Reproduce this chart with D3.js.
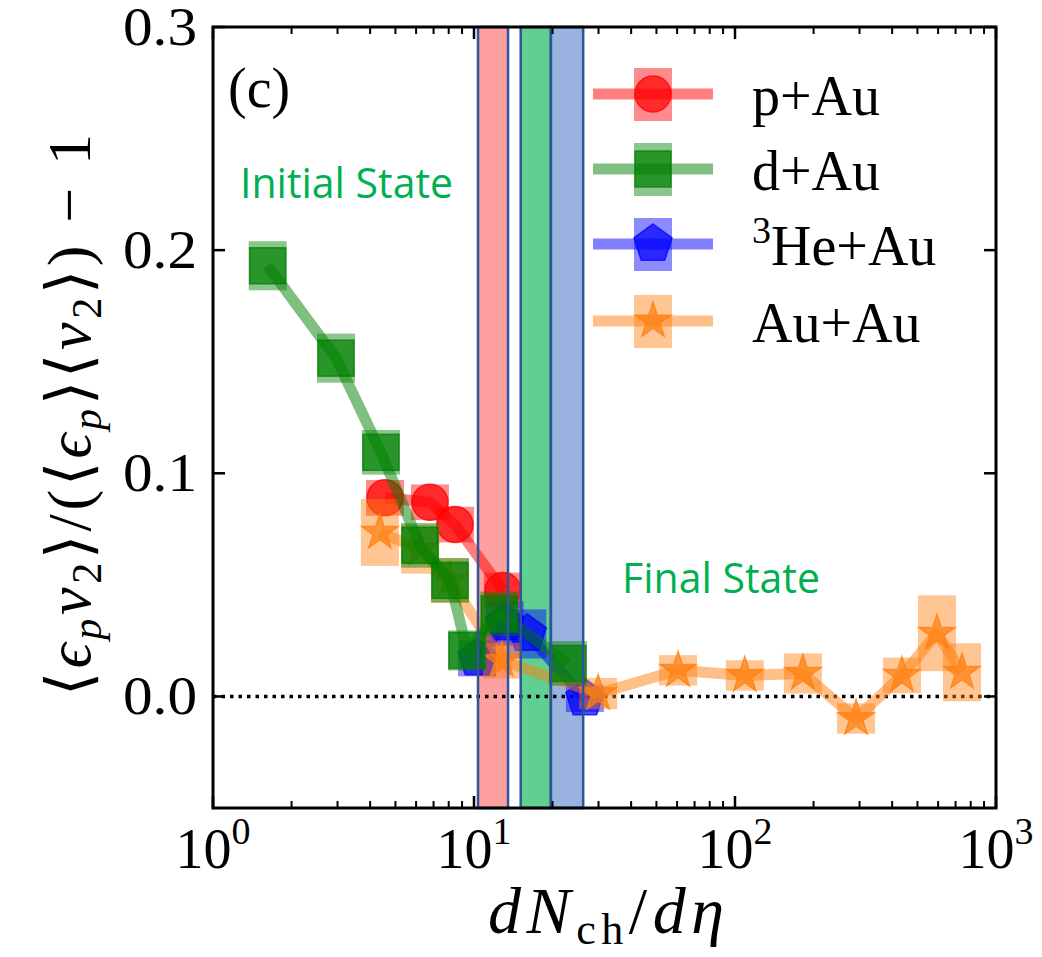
<!DOCTYPE html>
<html><head><meta charset="utf-8">
<script src="https://cdn.jsdelivr.net/npm/d3@7"></script>
<style>body{margin:0;background:#fff} svg{display:block}</style>
</head><body>
<svg id="chart" width="1042" height="957"></svg>
<script>
// ---------------- data ----------------
const pAuX   = [4.56, 6.78, 8.46, 12.9];
const pAuY   = [0.089, 0.087, 0.077, 0.0475];
const pAuErr = [0.008, 0.008, 0.008, 0.008];

const dAuX   = [1.62, 2.96, 4.40, 6.21, 8.09, 9.40, 12.5, 22.9];
const dAuY   = [0.193, 0.1516, 0.1094, 0.0677, 0.052, 0.0206, 0.037, 0.0148];
const dAuErr = [0.011, 0.011, 0.010, 0.010, 0.010, 0.009, 0.010, 0.010];

const heAuX   = [10.27, 13.1, 16.0, 26.6];
const heAuY   = [0.017, 0.0327, 0.028, -0.001];
const heAuErr = [0.008, 0.010, 0.011, 0.006];

const auAuX   = [4.36, 6.22, 8.09, 12.8, 29.9, 60.5, 109, 182, 291, 436, 594, 741];
const auAuY   = [0.0735, 0.066, 0.052, 0.016, 0.0013, 0.0117, 0.0094, 0.0103, -0.0099, 0.0094, 0.0283, 0.0108];
const auAuErr = [0.015, 0.011, 0.010, 0.008, 0.007, 0.0068, 0.0068, 0.009, 0.0068, 0.008, 0.017, 0.013];

const seriesNames  = ["p+Au", "d+Au", "He+Au", "Au+Au"];
const seriesColors = ["#ff0000", "#008000", "#0000ff", "#ff7f0e"];
const seriesShapes = ["circle", "square", "pentagon", "star"];
const drawOrder    = [0, 2, 3, 1];   // p+Au, He+Au, Au+Au, d+Au (d+Au on top)

const bandLo = [10.36, 15.1, 19.7];
const bandHi = [13.5, 19.7, 26.2];
const bandColors = ["#ffa0a0", "#5fcf92", "#99b2e0"];

const xMajorTicks = [1, 10, 100, 1000];
const xTickExp    = ["0", "1", "2", "3"];
const yTicks      = [0, 0.1, 0.2, 0.3];
const yTickLabels = ["0.0", "0.1", "0.2", "0.3"];

// ---------------- setup ----------------
const svg = d3.select("#chart");
const L = 213, R = 996, T = 27, B = 808;
const x = d3.scaleLog().domain([1, 1000]).range([L, R]);
const y = d3.scaleLinear().domain([-0.05, 0.3]).range([B, T]);
const serif = "'Liberation Serif', 'Times New Roman', serif";

const series = [
  {name: seriesNames[0], xs: pAuX, ys: pAuY, es: pAuErr, color: seriesColors[0], shape: seriesShapes[0]},
  {name: seriesNames[1], xs: dAuX, ys: dAuY, es: dAuErr, color: seriesColors[1], shape: seriesShapes[1]},
  {name: seriesNames[2], xs: heAuX, ys: heAuY, es: heAuErr, color: seriesColors[2], shape: seriesShapes[2]},
  {name: seriesNames[3], xs: auAuX, ys: auAuY, es: auAuErr, color: seriesColors[3], shape: seriesShapes[3]},
];

function polyPath(n, R1, R2) {
  const pts = [];
  const m = R2 ? n * 2 : n;
  for (let i = 0; i < m; i++) {
    const a = -Math.PI / 2 + i * 2 * Math.PI / m;
    const r = (R2 && i % 2 === 1) ? R2 : R1;
    pts.push([r * Math.cos(a), r * Math.sin(a)]);
  }
  return "M" + pts.map(p => p[0].toFixed(2) + "," + p[1].toFixed(2)).join("L") + "Z";
}
function drawMarker(g, shape, cx, cy, color) {
  let el;
  if (shape === "circle") {
    el = g.append("circle").attr("cx", cx).attr("cy", cy).attr("r", 18);
  } else if (shape === "square") {
    el = g.append("rect").attr("x", cx - 18).attr("y", cy - 18).attr("width", 36).attr("height", 36);
  } else if (shape === "pentagon") {
    el = g.append("path").attr("d", polyPath(5, 20)).attr("transform", `translate(${cx},${cy})`);
  } else {
    el = g.append("path").attr("d", polyPath(5, 19, 19 * 0.382)).attr("transform", `translate(${cx},${cy})`);
  }
  el.attr("fill", color).attr("fill-opacity", 0.7)
    .attr("stroke", color).attr("stroke-opacity", 0.75).attr("stroke-width", 1.5);
}

// ---------------- band fills ----------------
const bandG = svg.append("g");
bandLo.forEach((lo, i) => {
  bandG.append("rect").attr("x", x(lo)).attr("y", T)
    .attr("width", x(bandHi[i]) - x(lo)).attr("height", B - T)
    .attr("fill", bandColors[i]);
});

// zero line
svg.append("line").attr("x1", L).attr("x2", R).attr("y1", y(0)).attr("y2", y(0))
  .attr("stroke", "#000").attr("stroke-width", 3.5).attr("stroke-dasharray", "3.5,5");

// ---------------- series ----------------
const line = d3.line().x(d => x(d[0])).y(d => y(d[1]));
drawOrder.forEach(k => {
  const s = series[k];
  const g = svg.append("g");
  const pts = s.xs.map((v, i) => [v, s.ys[i], s.es[i]]);
  g.selectAll("rect.box").data(pts).enter().append("rect")
    .attr("x", d => x(d[0]) - 19).attr("width", 38)
    .attr("y", d => y(d[1] + d[2])).attr("height", d => y(d[1] - d[2]) - y(d[1] + d[2]))
    .attr("fill", s.color).attr("fill-opacity", 0.45);
  g.append("path").attr("d", line(pts)).attr("fill", "none")
    .attr("stroke", s.color).attr("stroke-opacity", 0.5).attr("stroke-width", 11)
    .attr("stroke-linejoin", "round");
  pts.forEach(d => drawMarker(g, s.shape, x(d[0]), y(d[1]), s.color));
});

// ---------------- band borders ----------------
bandLo.forEach((lo, i) => {
  svg.append("rect").attr("x", x(lo)).attr("y", T)
    .attr("width", x(bandHi[i]) - x(lo)).attr("height", B - T)
    .attr("fill", "none").attr("stroke", "#2f5597").attr("stroke-width", 2.5);
});

// ---------------- axes frame & ticks ----------------
const ax = svg.append("g").attr("stroke", "#000");
const minor = x.ticks().filter(v => !xMajorTicks.includes(v));
minor.forEach(v => {
  ax.append("line").attr("x1", x(v)).attr("x2", x(v)).attr("y1", B).attr("y2", B - 7).attr("stroke-width", 2);
  ax.append("line").attr("x1", x(v)).attr("x2", x(v)).attr("y1", T).attr("y2", T + 7).attr("stroke-width", 2);
});
xMajorTicks.forEach(v => {
  ax.append("line").attr("x1", x(v)).attr("x2", x(v)).attr("y1", B).attr("y2", B - 12).attr("stroke-width", 2.5);
  ax.append("line").attr("x1", x(v)).attr("x2", x(v)).attr("y1", T).attr("y2", T + 12).attr("stroke-width", 2.5);
});
yTicks.forEach(v => {
  ax.append("line").attr("x1", L).attr("x2", L + 12).attr("y1", y(v)).attr("y2", y(v)).attr("stroke-width", 2.5);
  ax.append("line").attr("x1", R).attr("x2", R - 12).attr("y1", y(v)).attr("y2", y(v)).attr("stroke-width", 2.5);
});
svg.append("rect").attr("x", L).attr("y", T).attr("width", R - L).attr("height", B - T)
  .attr("fill", "none").attr("stroke", "#000").attr("stroke-width", 3);

// tick labels
yTicks.forEach((v, i) => {
  svg.append("text").attr("x", 197).attr("y", y(v) + 18)
    .attr("text-anchor", "end").attr("font-family", serif).attr("font-size", 54)
    .attr("textLength", 74).attr("lengthAdjust", "spacingAndGlyphs")
    .text(yTickLabels[i]);
});
xMajorTicks.forEach((v, i) => {
  const t = svg.append("text").attr("x", x(v)).attr("y", 868)
    .attr("text-anchor", "middle").attr("font-family", serif).attr("font-size", 56);
  t.append("tspan").text("10");
  t.append("tspan").attr("font-size", 38).attr("dy", -24).text(xTickExp[i]);
});

// axis labels
const xl = svg.append("text").attr("x", 606).attr("y", 933).attr("text-anchor", "middle")
  .attr("font-family", serif).attr("font-size", 66)
  .attr("textLength", 236).attr("lengthAdjust", "spacing");
xl.append("tspan").attr("font-style", "italic").text("dN");
xl.append("tspan").attr("font-size", 44).attr("dy", 11).text("ch");
xl.append("tspan").attr("dy", -11).text("/");
xl.append("tspan").attr("font-style", "italic").text("dη");

const yl = svg.append("text").attr("transform", "translate(90,415) rotate(-90)")
  .attr("text-anchor", "middle").attr("font-family", serif).attr("font-size", 62)
  .attr("textLength", 562).attr("lengthAdjust", "spacing");
const parts = [
  ["⟨", 0, 0], ["ϵ", 1, 0], ["p", 1, 1], ["v", 1, 0], ["2", 0, 1], ["⟩/(⟨", 0, 0],
  ["ϵ", 1, 0], ["p", 1, 1], ["⟩⟨", 0, 0], ["v", 1, 0], ["2", 0, 1], ["⟩) − 1", 0, 0]
];
let prevSub = 0;
parts.forEach(p => {
  const ts = yl.append("tspan").text(p[0]);
  if (p[1]) ts.attr("font-style", "italic");
  if (p[2]) ts.attr("font-size", 42);
  const dy = (p[2] ? 11 : 0) - (prevSub ? 11 : 0);
  if (dy) ts.attr("dy", dy);
  prevSub = p[2];
});

// panel label
svg.append("text").attr("x", 228).attr("y", 107).attr("font-family", serif).attr("font-size", 56).text("(c)");

// annotations
const sans = "'Open Sans', 'Noto Sans', sans-serif";
svg.append("text").attr("x", 240).attr("y", 198).attr("font-family", sans).attr("font-size", 42)
  .attr("fill", "#00b050").attr("textLength", 213).attr("lengthAdjust", "spacingAndGlyphs").text("Initial State");
svg.append("text").attr("x", 622).attr("y", 593).attr("font-family", sans).attr("font-size", 42)
  .attr("fill", "#00b050").attr("textLength", 198).attr("lengthAdjust", "spacingAndGlyphs").text("Final State");

// ---------------- legend ----------------
const legRows = [94, 169, 244, 321];
series.forEach((s, i) => {
  const g = svg.append("g");
  const cy = legRows[i];
  g.append("rect").attr("x", 634).attr("y", cy - 26).attr("width", 38).attr("height", 53)
    .attr("fill", s.color).attr("fill-opacity", 0.45);
  g.append("line").attr("x1", 593).attr("x2", 713).attr("y1", cy).attr("y2", cy)
    .attr("stroke", s.color).attr("stroke-opacity", 0.5).attr("stroke-width", 11);
  drawMarker(g, s.shape, 653, cy, s.color);
  const t = g.append("text").attr("x", 752).attr("y", cy + 21)
    .attr("font-family", serif).attr("font-size", 56);
  if (s.name === "He+Au") {
    t.append("tspan").attr("font-size", 38).attr("dy", -22).text("3");
    t.append("tspan").attr("dy", 22).text("He+Au");
  } else {
    t.text(s.name);
  }
});
</script>
</body></html>
